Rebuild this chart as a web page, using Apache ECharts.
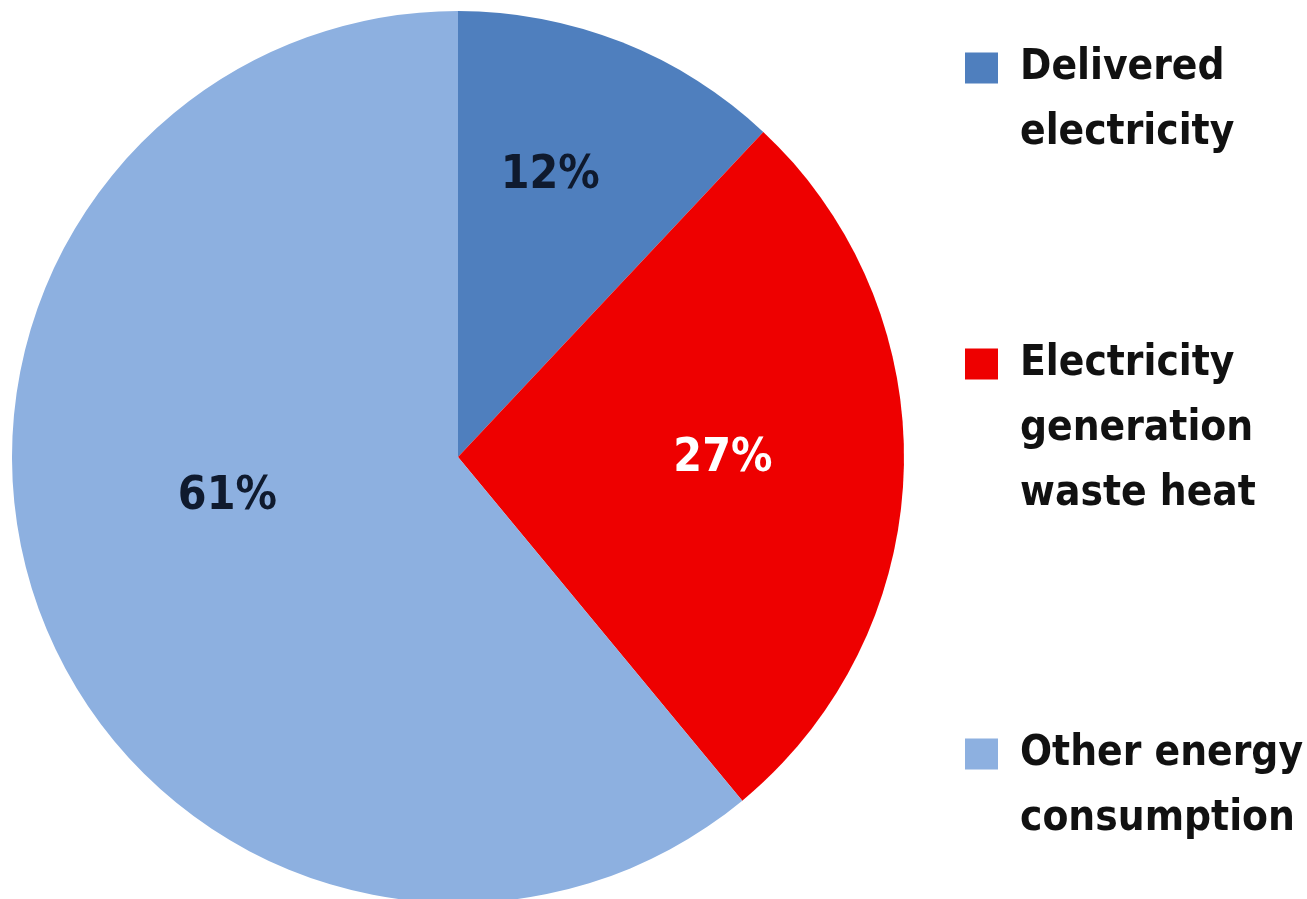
<!DOCTYPE html>
<html>
<head>
<meta charset="utf-8">
<script src="https://cdn.jsdelivr.net/npm/echarts@6/dist/echarts.min.js"></script>
<style>
  html, body { margin: 0; padding: 0; background: #fff; }
  #chart { width: 1307px; height: 899px; }
</style>
</head>
<body>
<div id="chart"></div>
<script>
// slices, clockwise from 12 o'clock
var names = ['Delivered\nelectricity', 'Electricity\ngeneration\nwaste heat', 'Other energy\nconsumption'];
var shares = [12, 27, 61];
var colors = ['#4f7fbe', '#ee0000', '#8db0e0'];
var labelColors = ['#0f1a2e', '#ffffff', '#0f1a2e'];

var FONT = "'Liberation Sans Narrow', 'DejaVu Sans Condensed', 'Liberation Sans', sans-serif";
var LINE_H = 65;

// nudge labels off the mid-radius spot
var labelOffsets = [[9, -71], [39, -5], [-18, -37]];
// y of each legend square's centre
var legendCenters = [63, 359, 749];

var chart = echarts.init(document.getElementById('chart'));

var pieData = names.map(function (n, i) {
  return {
    name: n,
    value: shares[i],
    itemStyle: { color: colors[i] },
    label: { color: labelColors[i], offset: labelOffsets[i] }
  };
});

// legend centres the square on the text block, so pad blank lines on top
// to make the first text line sit in the middle
var legends = names.map(function (n, i) {
  var lines = n.split('\n').length;
  var total = 2 * lines - 1;
  return {
    data: [n],
    orient: 'vertical',
    left: 960,
    top: legendCenters[i] - total * LINE_H / 2,
    itemWidth: 33,
    itemHeight: 31,
    itemGap: 0,
    icon: 'rect',
    selectedMode: false,
    formatter: function (name) {
      return new Array(lines).join('\n') + name;
    },
    textStyle: {
      fontFamily: FONT,
      fontWeight: 'bold',
      fontSize: 42,
      lineHeight: LINE_H,
      color: '#111',
      padding: [0, 0, 0, 17]
    }
  };
});

chart.setOption({
  animation: false,
  legend: legends,
  series: [{
    type: 'pie',
    center: [458, 457],
    radius: 446,
    startAngle: 90,
    clockwise: true,
    label: {
      show: true,
      position: 'inside',
      formatter: '{c}%',
      fontFamily: FONT,
      fontWeight: 'bold',
      fontSize: 46
    },
    labelLine: { show: false },
    emphasis: { disabled: true },
    data: pieData
  }]
});
</script>
</body>
</html>
